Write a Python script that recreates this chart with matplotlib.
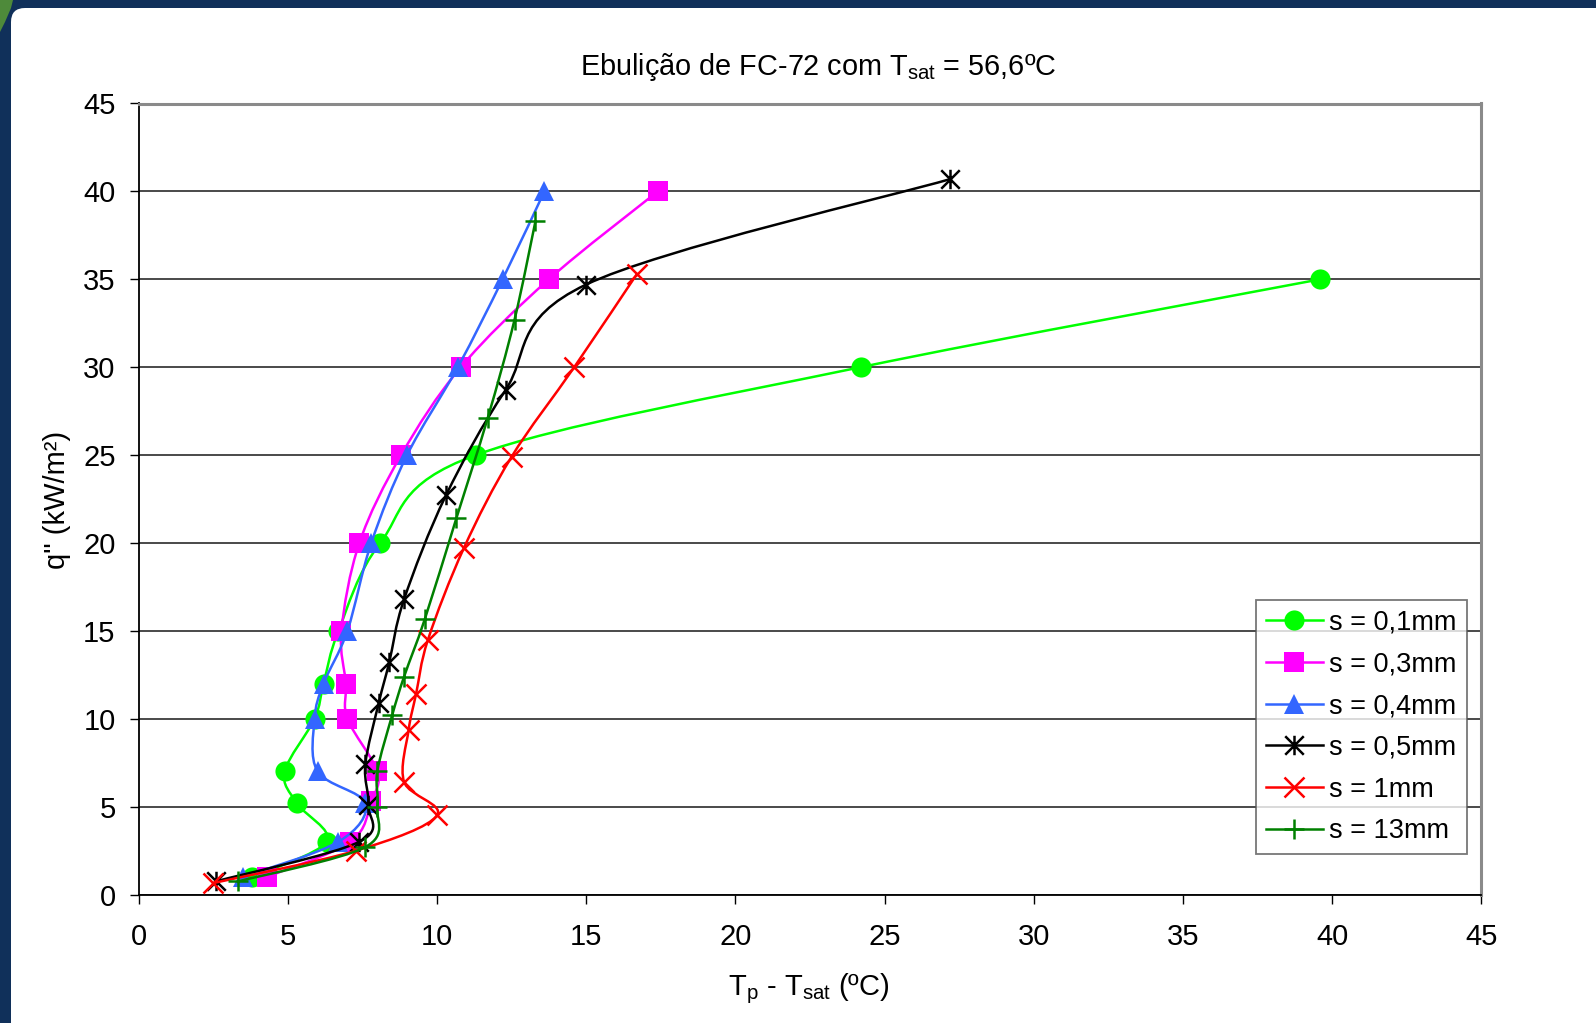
import matplotlib
matplotlib.use("Agg")
import matplotlib.pyplot as plt
from matplotlib.path import Path
from matplotlib.patches import PathPatch, FancyBboxPatch, Polygon
from matplotlib.lines import Line2D
from matplotlib.transforms import IdentityTransform

plt.rcParams['font.family'] = ['Liberation Sans', 'DejaVu Sans']
plt.rcParams['mathtext.fontset'] = 'custom'
plt.rcParams['mathtext.rm'] = 'Liberation Sans'
plt.rcParams['mathtext.it'] = 'Liberation Sans:italic'

# ---------------- data ----------------
labels = ["s = 0,1mm", "s = 0,3mm", "s = 0,4mm", "s = 0,5mm", "s = 1mm", "s = 13mm"]

x_01 = [3.8, 6.3, 5.3, 4.9, 5.9, 6.2, 6.7, 8.1, 11.3, 24.2, 39.6]
y_01 = [1.0, 3.0, 5.2, 7.0, 10.0, 12.0, 15.0, 20.0, 25.0, 30.0, 35.0]

x_03 = [4.3, 7.1, 7.8, 8.0, 7.0, 6.95, 6.8, 7.4, 8.8, 10.8, 13.75, 17.4]
y_03 = [1.0, 3.0, 5.3, 7.0, 10.0, 12.0, 15.0, 20.0, 25.0, 30.0, 35.0, 40.0]

x_04 = [3.5, 6.7, 7.6, 6.0, 5.9, 6.2, 7.0, 7.8, 9.0, 10.7, 12.2, 13.6]
y_04 = [1.0, 3.0, 5.2, 7.0, 10.0, 12.0, 15.0, 20.0, 25.0, 30.0, 35.0, 40.0]

x_05 = [2.6, 7.4, 7.7, 7.6, 8.05, 8.4, 8.9, 10.3, 12.3, 15.0, 27.2]
y_05 = [0.75, 3.0, 5.1, 7.4, 10.9, 13.2, 16.8, 22.7, 28.7, 34.7, 40.7]

x_1 = [2.5, 7.3, 10.0, 8.9, 9.05, 9.3, 9.7, 10.9, 12.5, 14.6, 16.7]
y_1 = [0.65, 2.5, 4.5, 6.4, 9.35, 11.4, 14.5, 19.7, 24.9, 30.0, 35.3]

x_13 = [3.35, 7.6, 8.0, 8.0, 8.5, 8.9, 9.6, 10.65, 11.7, 12.6, 13.3]
y_13 = [0.75, 2.7, 5.0, 7.0, 10.2, 12.4, 15.7, 21.4, 27.1, 32.7, 38.3]

xs = [x_01, x_03, x_04, x_05, x_1, x_13]
ys = [y_01, y_03, y_04, y_05, y_1, y_13]

ticks = [0, 5, 10, 15, 20, 25, 30, 35, 40, 45]

# ---------------- styles ----------------
colors = ['#00FF00', '#FF00FF', '#3366FF', '#000000', '#FF0000', '#008000']
star = Path([(-1, -1), (1, 1), (-1, 1), (1, -1), (0, -1.05), (0, 1.05)],
            [Path.MOVETO, Path.LINETO, Path.MOVETO, Path.LINETO, Path.MOVETO, Path.LINETO])
markers = ['o', 's', '^', star, 'x', '+']
msizes = [14.5, 14, 15, 14, 15, 15]
LW = 1.8


def smooth_path(x, y):
    pts = list(zip(x, y))
    n = len(pts)
    verts = [pts[0]]
    codes = [Path.MOVETO]
    for i in range(n - 1):
        p0 = pts[i - 1] if i > 0 else pts[i]
        p1 = pts[i]
        p2 = pts[i + 1]
        p3 = pts[i + 2] if i + 2 < n else pts[i + 1]
        c1 = (p1[0] + (p2[0] - p0[0]) / 6.0, p1[1] + (p2[1] - p0[1]) / 6.0)
        c2 = (p2[0] - (p3[0] - p1[0]) / 6.0, p2[1] - (p3[1] - p1[1]) / 6.0)
        verts += [c1, c2, p2]
        codes += [Path.CURVE4] * 3
    return Path(verts, codes)


W, H = 1596, 1023
fig = plt.figure(figsize=(W / 100, H / 100), dpi=100)
fig.patch.set_facecolor('#10305A')
# white slide area with rounded corner
fig.patches.append(FancyBboxPatch((11, -30), 1700, H - 8 + 30,
                                  boxstyle='round,pad=0,rounding_size=14',
                                  transform=IdentityTransform(), facecolor='white',
                                  edgecolor='none', zorder=-5))
fig.patches.append(Polygon([(0, H), (13, H), (11, H - 8), (5, H - 22), (0, H - 32)],
                           closed=True, transform=IdentityTransform(),
                           facecolor='#4E8A3A', edgecolor='none', zorder=-4))

ax = fig.add_axes([138.5 / W, 1 - 894.5 / H, (1481.5 - 138.5) / W, (894.5 - 103.5) / H])
ax.set_zorder(1)
ax.set_facecolor('white')
ax.set_xlim(0, 45)
ax.set_ylim(0, 45)
ax.set_xticks(ticks)
ax.set_yticks(ticks)
ax.set_xticklabels([str(t) for t in ticks])
ax.set_yticklabels([str(t) for t in ticks])
ax.tick_params(axis='both', direction='out', length=6.5, width=1.0, colors='black',
               labelsize=21)
ax.tick_params(axis='x', pad=14)
ax.tick_params(axis='y', pad=10)
ax.yaxis.grid(True, color='#2a2a2a', lw=1.2)
ax.set_axisbelow(True)
for s in ['left', 'bottom']:
    ax.spines[s].set_color('black')
    ax.spines[s].set_linewidth(1.3)
for s in ['top', 'right']:
    ax.spines[s].set_color('#8a8a8a')
    ax.spines[s].set_linewidth(2.2)

handles = []
for i, (x, y) in enumerate(zip(xs, ys)):
    c = colors[i]
    ax.add_patch(PathPatch(smooth_path(x, y), facecolor='none', edgecolor=c, lw=LW,
                           zorder=3 + 2 * i))
    filled = markers[i] in ('o', 's', '^')
    ax.plot(x, y, linestyle='none', marker=markers[i], markersize=msizes[i],
            markerfacecolor=c if filled else 'none', markeredgecolor=c,
            markeredgewidth=0 if filled else LW, zorder=4 + 2 * i, clip_on=False)
    handles.append(Line2D([], [], color=c, lw=LW, marker=markers[i], markersize=msizes[i],
                          markerfacecolor=c if filled else 'none', markeredgecolor=c,
                          markeredgewidth=0 if filled else LW))

leg = ax.legend(handles, labels, loc='upper left',
                bbox_to_anchor=(1256 / W, 1 - 600 / H), bbox_transform=fig.transFigure,
                borderaxespad=0, fontsize=19.5, frameon=True, fancybox=False,
                handlelength=2.1, handletextpad=0.25, labelspacing=0.58,
                borderpad=0.36)
leg.get_frame().set_edgecolor('#555555')
leg.get_frame().set_linewidth(1.3)
leg.set_zorder(20)

fig.text(818 / W, 1 - 67 / H, 'Ebulição de FC-72 com T$_{\\mathrm{sat}}$ = 56,6ºC',
         ha='center', va='center', fontsize=20.8)
fig.text(809 / W, 1 - 989 / H, 'T$_{\\mathrm{p}}$ - T$_{\\mathrm{sat}}$ (ºC)',
         ha='center', va='center', fontsize=21)
fig.text(57 / W, 1 - 500 / H, 'q" (kW/m²)', ha='center', va='center',
         rotation=90, fontsize=21)

fig.savefig('out.png', dpi=100, facecolor=fig.get_facecolor())
